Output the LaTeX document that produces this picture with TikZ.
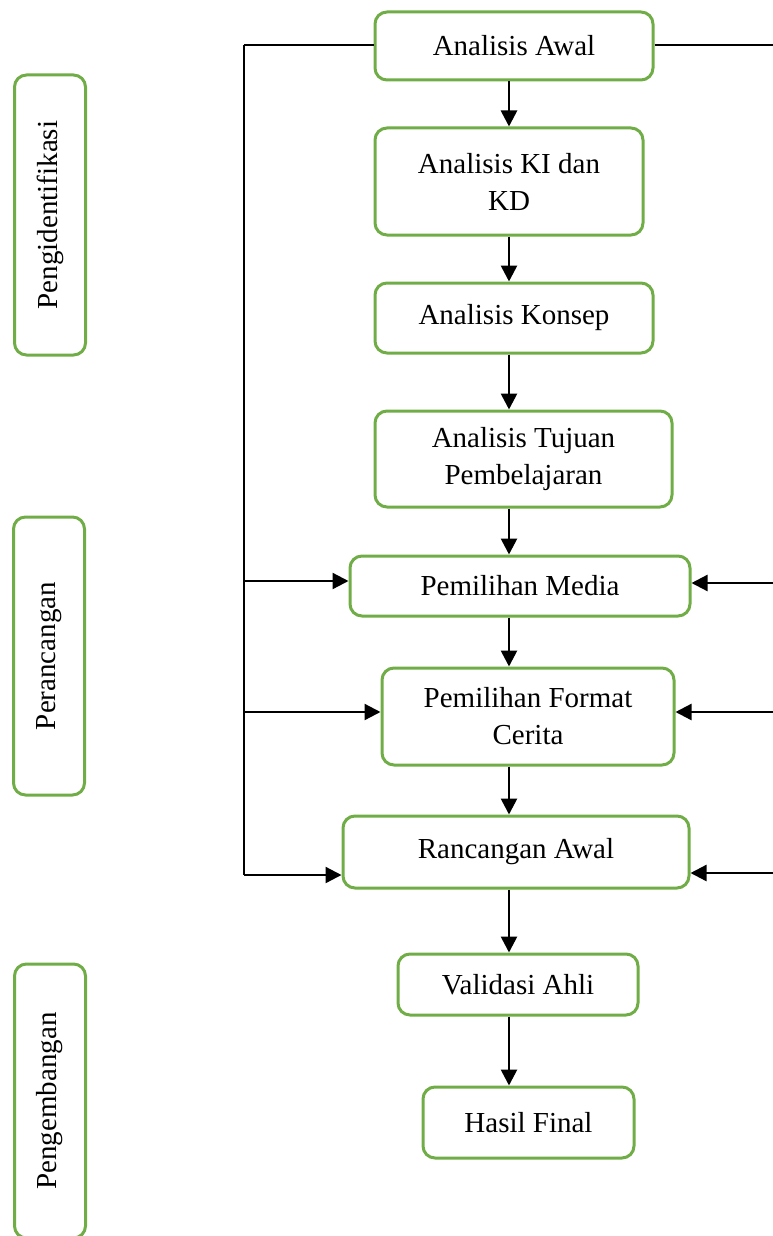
\documentclass[tikz,border=0pt]{standalone}
\usepackage{fontspec}
\setmainfont{Liberation Serif}
\usetikzlibrary{arrows.meta}
\definecolor{grn}{RGB}{112,173,71}
\begin{document}
\begin{tikzpicture}[x=1pt,y=1pt,
  box/.style={draw=grn, line width=3pt, rounded corners=12pt, fill=white,
    inner sep=0pt, align=center, font=\fontsize{29}{37}\selectfont},
  sidebox/.style={box, rotate=90, minimum height=71pt},
  varr/.style={line width=2.7pt, -{Triangle[length=16pt,width=16pt]}},
  harr/.style={line width=2.3pt, -{Triangle[length=16pt,width=16pt]}},
  fb/.style={line width=1.8pt},
  topfb/.style={line width=1.3pt}]
\useasboundingbox (0,0) rectangle (773,-1236);

% side labels
\node[sidebox, minimum width=280pt] (s1) at (50,-215) {Pengidentifikasi};
\node[sidebox, minimum width=278pt] (s2) at (49,-656) {Perancangan};
\node[sidebox, minimum width=274pt] (s3) at (50,-1101) {Pengembangan};

% main boxes
\node[box, minimum width=278pt, minimum height=68pt] (a1) at (514,-46) {Analisis Awal};
\node[box, minimum width=268pt, minimum height=107pt] (a2) at (509,-181.5) {Analisis KI dan\\KD};
\node[box, minimum width=278pt, minimum height=70pt] (a3) at (514,-318) {Analisis Konsep};
\node[box, minimum width=297pt, minimum height=96pt] (a4) at (523.5,-459) {Analisis Tujuan\\Pembelajaran};
\node[box, minimum width=340pt, minimum height=60pt] (pm) at (520,-586) {Pemilihan Media};
\node[box, minimum width=292pt, minimum height=97pt] (pf) at (528,-716.5) {Pemilihan Format\\Cerita};
\node[box, minimum width=346pt, minimum height=72pt] (ra) at (516,-852) {Rancangan Awal};
\node[box, minimum width=240pt, minimum height=61pt] (va) at (518,-984.5) {Validasi Ahli};
\node[box, minimum width=211pt, minimum height=71pt] (hf) at (528.5,-1122.5) {Hasil Final};

% spine
\coordinate (sp) at (509,0);
\draw[varr] (a1.south -| sp) -- (a2.north -| sp);
\draw[varr] (a2.south -| sp) -- (a3.north -| sp);
\draw[varr] (a3.south -| sp) -- (a4.north -| sp);
\draw[varr] (a4.south -| sp) -- (pm.north -| sp);
\draw[varr] (pm.south -| sp) -- (pf.north -| sp);
\draw[varr] (pf.south -| sp) -- (ra.north -| sp);
\draw[varr] (ra.south -| sp) -- (va.north -| sp);
\draw[varr] (va.south -| sp) -- (hf.north -| sp);

% left feedback
\coordinate (lt) at (244,-45);
\coordinate (lm) at (244,-581);
\coordinate (lf) at (244,-712);
\coordinate (lb) at (244,-875);
\draw[topfb] (a1.west |- lt) -- (lt);
\draw[fb] (lt) -- (lb);
\draw[harr] (lm) -- (lm -| pm.west);
\draw[harr] (lf) -- (lf -| pf.west);
\draw[harr] (lb) -- (lb -| ra.west);

% right feedback
\coordinate (rt) at (773,-45);
\coordinate (rm) at (773,-583);
\coordinate (rf) at (773,-712);
\coordinate (rb) at (773,-873);
\draw[topfb] (a1.east |- rt) -- (rt);
\draw[harr] (rm) -- (rm -| pm.east);
\draw[harr] (rf) -- (rf -| pf.east);
\draw[harr] (rb) -- (rb -| ra.east);
\end{tikzpicture}
\end{document}
